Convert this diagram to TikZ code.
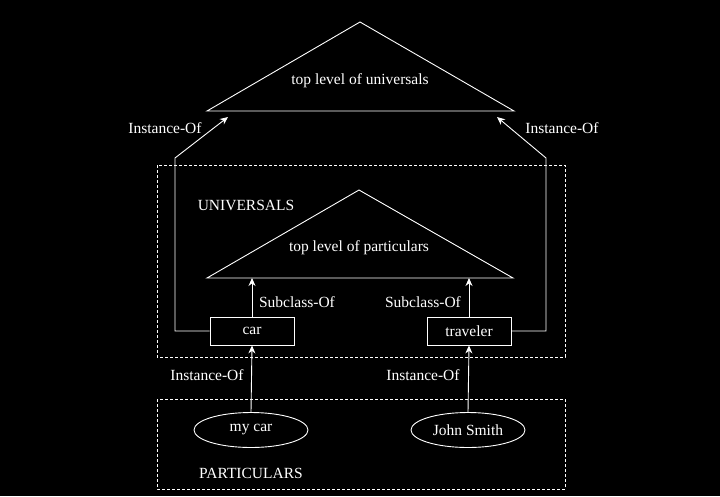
\documentclass[tikz,border=0pt]{standalone}
\usepackage{fontspec}
\setmainfont{Liberation Serif}
\usetikzlibrary{arrows.meta,shapes.geometric}
\begin{document}
\begin{tikzpicture}[x=1pt,y=-1pt,
  every node/.style={text=white,font=\fontsize{15.5}{17}\selectfont,inner sep=0pt},
  ln/.style={draw=white,line width=0.9pt},
  arr/.style={ln,-{Stealth[length=8pt,width=7pt]}},
  dbox/.style={draw=white,line width=0.9pt,dash pattern=on 3pt off 2pt},
  cbox/.style={draw=white,line width=0.9pt,rectangle,minimum width=84pt,minimum height=28pt},
  ell/.style={draw=white,line width=0.9pt,ellipse,minimum width=114pt,minimum height=35pt}]
\fill[black] (0,0) rectangle (720,496);
\useasboundingbox (0,0) rectangle (720,496);
% top triangle
\draw[ln] (207,111) -- (360,22) -- (514,111) -- cycle;
\node (tu) at (360,81) {top level of universals};
\coordinate (tipL) at (228,117);
\coordinate (tipR) at (497,117);
% universals box
\draw[dbox] (157,165) rectangle (565,357);
\node (U) at (246,205) {UNIVERSALS};
% particulars triangle
\draw[ln] (207,278) -- (359,190) -- (513,278) -- cycle;
\node (tp) at (359,248) {top level of particulars};
\coordinate (baseL) at (252,278);
\coordinate (baseR) at (469,278);
% boxes
\node[cbox] (car) at (252,331) {car};
\node[cbox] (trav) at (469,331) {traveler};
% particulars box
\draw[dbox] (157,399) rectangle (565,489);
\node (P) at (251,473) {PARTICULARS};
\node[ell] (mycar) at (251,430) {my car};
\node[ell] (john) at (468,430) {John Smith};
% connectors
\draw[arr] (car.north) -- (baseL);
\draw[arr] (trav.north) -- (baseR);
\draw[arr] (mycar.north) -- (car.south);
\draw[arr] (john.north) -- (trav.south);
\draw[arr] (car.west) -- (175,331) -- (175,158) -- (tipL);
\draw[arr] (trav.east) -- (546,331) -- (546,158) -- (tipR);
% labels
\node (l1) at (165,128) {Instance-Of};
\node (l2) at (562,128) {Instance-Of};
\node (l3) at (297,302) {Subclass-Of};
\node (l4) at (423,302) {Subclass-Of};
\node (l5) at (207,375) {Instance-Of};
\node (l6) at (423,375) {Instance-Of};
\end{tikzpicture}
\end{document}
